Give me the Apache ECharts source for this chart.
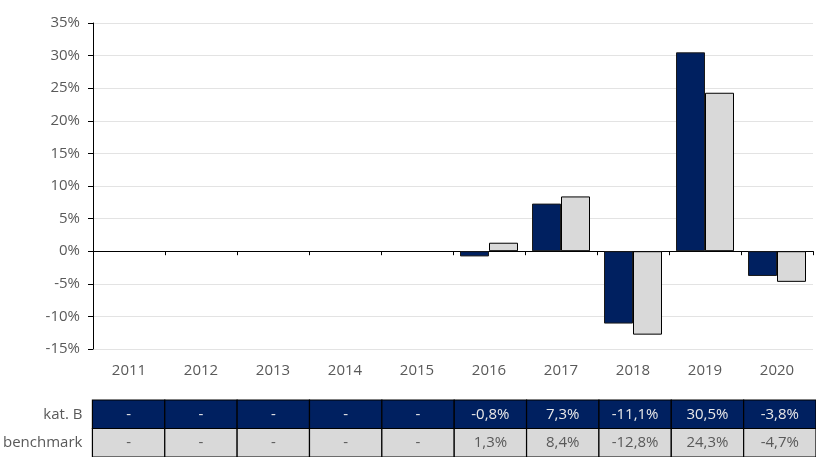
<!DOCTYPE html>
<html>
<head>
<meta charset="utf-8">
<script src="https://cdn.jsdelivr.net/npm/echarts@6/dist/echarts.min.js"></script>
<style>
  html, body { margin: 0; padding: 0; background: #fff; overflow: hidden; }
  #main { width: 816px; height: 457px; }
</style>
</head>
<body>
<div id="main"></div>
<script>
// dane
var years = ['2011', '2012', '2013', '2014', '2015', '2016', '2017', '2018', '2019', '2020'];
var katB = [null, null, null, null, null, -0.8, 7.3, -11.1, 30.5, -3.8];
var benchmark = [null, null, null, null, null, 1.3, 8.4, -12.8, 24.3, -4.7];
var rowNames = ['benchmark', 'kat. B'];

var NAVY = '#002060';
var GREY = '#D9D9D9';
var TEXT = '#595959';
var FONT = 'Open Sans';

function fmt(v) {
  if (v == null) return '-';
  return v.toFixed(1).replace('.', ',') + '%';
}

// komórki tabeli: [kolumna, wiersz, tekst]
var cells = [];
years.forEach(function (y, i) {
  cells.push([i, 1, fmt(katB[i])]);
  cells.push([i, 0, fmt(benchmark[i])]);
});

var myChart = echarts.init(document.getElementById('main'));

myChart.setOption({
  animation: false,
  textStyle: { fontFamily: FONT },
  grid: [
    { left: 93, right: 3, top: 23, height: 326 },
    { left: 90, right: -7, top: 400, height: 62 }
  ],
  xAxis: [
    {
      // linia zero z podziałkami
      type: 'category',
      gridIndex: 0,
      data: years,
      axisLine: { onZero: true, lineStyle: { color: '#000', width: 1 } },
      axisTick: { show: true, length: 4, lineStyle: { color: '#000' } },
      axisLabel: { show: false },
      splitLine: { show: false }
    },
    {
      // etykiety lat na dole
      type: 'category',
      gridIndex: 0,
      data: years,
      position: 'bottom',
      axisLine: { show: false, onZero: false },
      axisTick: { show: false },
      axisLabel: { margin: 14, color: TEXT, fontSize: 15, fontFamily: FONT }
    },
    {
      type: 'category',
      gridIndex: 1,
      data: years,
      show: false
    }
  ],
  yAxis: [
    {
      type: 'value',
      gridIndex: 0,
      min: -15,
      max: 35,
      interval: 5,
      axisLine: { show: true, lineStyle: { color: '#000', width: 1 } },
      axisTick: { show: true, length: 5, lineStyle: { color: '#000' } },
      axisLabel: {
        margin: 13,
        color: TEXT,
        fontSize: 15,
        fontFamily: FONT,
        formatter: function (v) { return v + '%'; }
      },
      splitLine: { show: true, lineStyle: { color: '#E3E3E3', width: 1 } }
    },
    {
      type: 'category',
      gridIndex: 1,
      data: rowNames,
      axisLine: { show: false },
      axisTick: { show: false },
      axisLabel: { margin: 10, color: TEXT, fontSize: 15, fontFamily: FONT }
    }
  ],
  series: [
    {
      name: 'kat. B',
      type: 'bar',
      xAxisIndex: 0,
      yAxisIndex: 0,
      barWidth: 29,
      barGap: '0%',
      itemStyle: { color: NAVY, borderColor: '#1a1a1a', borderWidth: 1 },
      data: katB
    },
    {
      name: 'benchmark',
      type: 'bar',
      xAxisIndex: 0,
      yAxisIndex: 0,
      barWidth: 29,
      barGap: '0%',
      itemStyle: { color: GREY, borderColor: '#000', borderWidth: 1 },
      data: benchmark
    },
    {
      type: 'custom',
      xAxisIndex: 2,
      yAxisIndex: 1,
      data: cells,
      renderItem: function (params, api) {
        var c = api.coord([api.value(0), api.value(1)]);
        var s = api.size([1, 1]);
        var row = api.value(1);
        return {
          type: 'rect',
          shape: { x: c[0] - s[0] / 2, y: c[1] - s[1] / 2, width: s[0], height: s[1] },
          style: { fill: row === 1 ? NAVY : GREY, stroke: '#000', lineWidth: 1.2 },
          textContent: {
            style: {
              text: cells[params.dataIndex][2],
              fill: row === 1 ? '#E8E8E8' : TEXT,
              fontSize: 15,
              fontFamily: FONT
            }
          },
          textConfig: { position: 'inside' }
        };
      }
    }
  ]
});
</script>
</body>
</html>
